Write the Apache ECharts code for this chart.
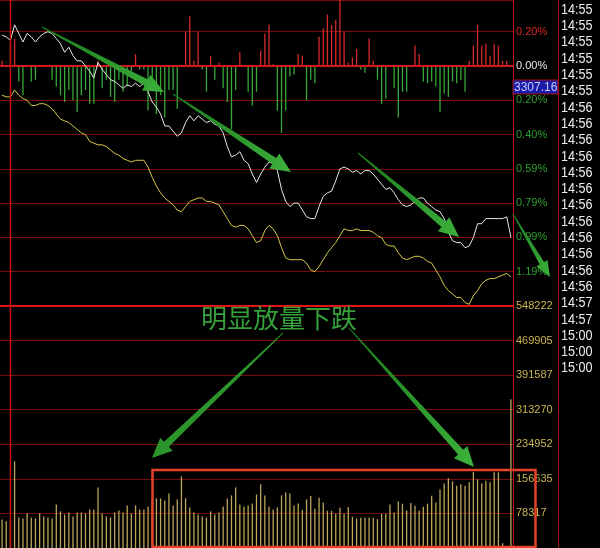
<!DOCTYPE html>
<html><head><meta charset="utf-8">
<script src="https://cdn.jsdelivr.net/npm/echarts@6/dist/echarts.min.js"></script>
<style>html,body{margin:0;padding:0;background:#000}#c{width:600px;height:548px}</style>
</head><body><div id="c"></div>
<script>
// ---- data ----
const tickNo = Array.from({length: 123}, (_, i) => i + 1); // tick sequence (categories)
// price change of last trade, percent
const priceLine = [0.18,0.17,0.15,0.24,0.19,0.14,0.19,0.17,0.14,0.17,0.19,0.20,0.19,0.16,0.13,0.08,0.11,0.06,0.03,0.03,
 0.00,-0.03,-0.07,0.02,-0.02,-0.05,-0.08,-0.09,-0.11,-0.13,-0.11,-0.12,-0.10,-0.12,-0.10,-0.15,-0.21,-0.24,-0.28,-0.35,
 -0.35,-0.38,-0.41,-0.39,-0.33,-0.29,-0.32,-0.29,-0.31,-0.33,-0.32,-0.34,-0.35,-0.39,-0.47,-0.53,-0.52,-0.50,-0.55,-0.57,
 -0.63,-0.68,-0.63,-0.59,-0.56,-0.57,-0.61,-0.72,-0.79,-0.82,-0.80,-0.80,-0.84,-0.88,-0.89,-0.89,-0.82,-0.76,-0.74,-0.73,
 -0.67,-0.60,-0.59,-0.60,-0.62,-0.61,-0.63,-0.61,-0.61,-0.63,-0.66,-0.69,-0.72,-0.71,-0.74,-0.78,-0.81,-0.82,-0.81,-0.79,
 -0.77,-0.77,-0.80,-0.82,-0.84,-0.85,-0.89,-0.97,-1.02,-1.03,-1.03,-1.06,-1.05,-1.00,-0.92,-0.92,-0.89,-0.89,-0.89,-0.89,
 -0.89,-0.88,-1.00];
// average price, percent
const avgLine = [-0.17,-0.18,-0.18,-0.14,-0.17,-0.19,-0.20,-0.23,-0.23,-0.22,-0.22,-0.23,-0.25,-0.28,-0.31,-0.32,-0.33,-0.35,-0.37,-0.39,
 -0.40,-0.44,-0.45,-0.46,-0.46,-0.47,-0.49,-0.51,-0.52,-0.54,-0.55,-0.56,-0.55,-0.55,-0.55,-0.59,-0.65,-0.70,-0.74,-0.77,
 -0.79,-0.81,-0.84,-0.85,-0.82,-0.79,-0.78,-0.77,-0.77,-0.79,-0.79,-0.80,-0.81,-0.85,-0.89,-0.93,-0.94,-0.93,-0.93,-0.95,
 -0.99,-1.03,-1.02,-0.96,-0.93,-0.95,-0.99,-1.06,-1.12,-1.13,-1.13,-1.13,-1.13,-1.15,-1.19,-1.20,-1.17,-1.13,-1.09,-1.06,
 -1.03,-0.99,-0.95,-0.96,-0.96,-0.95,-0.96,-0.96,-0.96,-0.97,-0.99,-1.00,-1.04,-1.05,-1.05,-1.09,-1.12,-1.13,-1.12,-1.11,
 -1.11,-1.12,-1.14,-1.15,-1.19,-1.23,-1.28,-1.31,-1.33,-1.35,-1.35,-1.38,-1.39,-1.34,-1.31,-1.27,-1.25,-1.24,-1.24,-1.23,
 -1.22,-1.21,-1.23];
// buy/sell pressure histogram (same scale as the percent axis)
const pressure = [0.03,0,0.13,0.16,-0.09,-0.17,0,-0.09,-0.08,0,0,0,-0.08,-0.12,-0.17,-0.21,-0.14,-0.20,-0.27,-0.17,
 -0.14,-0.22,-0.22,0.03,-0.13,-0.08,-0.18,-0.21,-0.08,-0.15,-0.12,-0.03,0.07,-0.02,-0.02,-0.26,-0.14,-0.28,-0.17,-0.30,
 -0.14,-0.14,-0.25,0,0.20,0.29,0.03,0.20,-0.02,-0.15,0.06,-0.08,0.02,-0.13,-0.21,-0.37,-0.14,0.08,0,-0.15,
 -0.23,-0.15,0.09,0.19,0.24,0.01,-0.26,-0.39,-0.26,-0.06,-0.05,0.07,0.06,-0.20,-0.08,-0.10,0.17,0.22,0.30,0.24,
 0.27,0.40,0.20,0.02,0.05,0.10,-0.02,-0.04,0.16,0.03,-0.08,-0.22,-0.19,0,-0.13,-0.30,-0.15,-0.15,0,0.12,
 0.07,-0.09,-0.10,-0.09,-0.12,-0.27,-0.16,-0.18,-0.09,-0.10,-0.08,-0.15,0.03,0.12,0.24,0.12,0.13,0.06,0.13,0.12,
 0.03,0.03,0];
const volume = [64700,60800,62400,196400,69200,67000,78300,69200,67000,78300,71500,69200,67000,98700,82900,76000,80600,71500,80600,80600,
 78300,87400,87400,137300,78300,71500,69200,80600,85100,80600,96500,78300,96500,87400,87400,94200,107800,112400,112400,107800,
 123700,96500,110100,162300,112400,91900,80600,76000,71500,69200,82900,76000,80600,94200,112400,119200,137300,98700,94200,96500,
 101000,121400,144200,119200,94200,87400,91900,119200,126000,123700,96500,101000,86700,110100,117600,89000,114000,103300,84400,84400,
 77600,91300,77600,92600,70800,67000,68600,68600,69200,68600,65400,77600,77600,98700,80600,105600,100300,85100,101700,95800,
 85100,93500,100300,118500,103300,132800,146400,158400,151000,141200,144200,141200,148700,172000,155500,146400,152500,148700,171400,171400,
 10900,0,337000];
const priceTickLabels = ['', '1.19%', '0.99%', '0.79%', '0.59%', '0.40%', '0.20%', '0.00%', '0.20%'];
const topCutLabel = '0.40%';
const volMax = 548222;
const timeLabels = ['14:55','14:55','14:55','14:55','14:55','14:55',
 '14:56','14:56','14:56','14:56','14:56','14:56','14:56','14:56','14:56','14:56','14:56','14:56',
 '14:57','14:57','15:00','15:00','15:00'];
const lastPrice = '3307.16';
const annotation = '明显放量下跌';

// ---- drawing ----
function arrow(x1, y1, x2, y2, w0, w1, hw, hl) {
  const dx = x2 - x1, dy = y2 - y1, L = Math.hypot(dx, dy);
  const ux = dx / L, uy = dy / L, nx = -uy, ny = ux;
  const bx = x2 - ux * hl, by = y2 - uy * hl;
  const pts = [
    [x1 + nx * w0 / 2, y1 + ny * w0 / 2],
    [bx + nx * w1 / 2, by + ny * w1 / 2],
    [bx + nx * hw / 2, by + ny * hw / 2],
    [x2, y2],
    [bx - nx * hw / 2, by - ny * hw / 2],
    [bx - nx * w1 / 2, by - ny * w1 / 2],
    [x1 - nx * w0 / 2, y1 - ny * w0 / 2]
  ];
  return { type: 'polygon', z: 100, shape: { points: pts },
    style: { fill: new echarts.graphic.LinearGradient(0, 0, 1, 1, [{offset: 0, color: '#1c7c1c'}, {offset: 1, color: '#3cb03c'}]) } };
}

const chart = echarts.init(document.getElementById('c'), null, { renderer: 'canvas' });
const gridRed = '#7a0c0c';
const numFont = '11px "Liberation Sans", Arial, sans-serif';
const graphics = [
  { type: 'line', z: 50, shape: { x1: 10.5, y1: 0, x2: 10.5, y2: 548 }, style: { stroke: '#c81010', lineWidth: 1.5 } },
  { type: 'line', z: 50, shape: { x1: 558.5, y1: 0, x2: 558.5, y2: 548 }, style: { stroke: '#a01010', lineWidth: 1 } },
  { type: 'text', z: 60, x: 516, y: -4, style: { text: topCutLabel, fill: '#e02828', font: numFont, verticalAlign: 'middle' } },
  { type: 'rect', z: 60, shape: { x: 513, y: 80, width: 45, height: 14 }, style: { fill: '#1a1aa8', stroke: '#a01010', lineWidth: 1 } },
  { type: 'text', z: 61, x: 514, y: 87.5, style: { text: lastPrice, fill: '#c8c8ff', font: '12px "Liberation Sans", Arial, sans-serif', verticalAlign: 'middle' } },
  { type: 'rect', z: 90, shape: { x: 152.5, y: 470, width: 383, height: 77 }, style: { fill: 'none', stroke: '#e8432a', lineWidth: 2.5 } },
  { type: 'text', z: 90, x: 201, y: 318, style: { text: annotation, fill: '#36a03a', font: '26px "Noto Sans CJK SC", sans-serif', verticalAlign: 'middle' } },
  arrow(42, 27, 164, 92, 1, 7, 18, 20),
  arrow(173, 94, 291, 172, 1, 7, 18, 20),
  arrow(358, 153, 459, 237, 1, 7, 18, 20),
  arrow(513, 214, 550, 277, 1, 5, 13, 16),
  arrow(283, 333, 152, 458, 1, 7, 18, 20),
  arrow(349, 328, 474, 467, 1, 7, 18, 20)
];
timeLabels.forEach((t, i) => {
  graphics.push({ type: 'text', z: 60, x: 561, y: 10 + 16.3 * i, scaleX: 0.9,
    style: { text: t, fill: '#eeeeee', font: '14px "Liberation Sans", Arial, sans-serif', verticalAlign: 'middle' } });
});

const option = {
  backgroundColor: '#000',
  animation: false,
  grid: [
    { left: 0, width: 513, top: 0, height: 306 },
    { left: 0, width: 513, top: 306, height: 242 }
  ],
  xAxis: [
    { type: 'category', gridIndex: 0, data: tickNo, boundaryGap: true,
      axisLine: { show: true, onZero: false, lineStyle: { color: '#e01414', width: 2 } },
      axisTick: { show: false }, axisLabel: { show: false }, splitLine: { show: false } },
    { type: 'category', gridIndex: 1, data: tickNo, boundaryGap: true,
      axisLine: { show: false }, axisTick: { show: false }, axisLabel: { show: false }, splitLine: { show: false } }
  ],
  yAxis: [
    { type: 'value', gridIndex: 0, position: 'right', min: -1.4, max: 0.385, interval: 0.2,
      axisLine: { show: true, lineStyle: { color: '#c01010', width: 1 } }, axisTick: { show: false },
      splitLine: { show: true, lineStyle: { color: gridRed, width: 1 } },
      axisLabel: { margin: 3, fontSize: 11, fontFamily: '"Liberation Sans", Arial, sans-serif', showMaxLabel: false,
        formatter: (v) => { const k = (v + 1.4) / 0.2; return Math.abs(k - Math.round(k)) < 0.01 ? (priceTickLabels[Math.round(k)] || '') : ''; },
        color: (v) => { const r = Math.round(v * 10) / 10; return r > 0 ? '#e02828' : (r === 0 ? '#e8e8e8' : '#2fa02f'); } } },
    { type: 'value', gridIndex: 1, position: 'right', min: 0, max: volMax, interval: volMax / 7,
      axisLine: { show: true, lineStyle: { color: '#c01010', width: 1 } }, axisTick: { show: false },
      splitLine: { show: true, lineStyle: { color: gridRed, width: 1 } },
      axisLabel: { margin: 3, fontSize: 11, color: '#c8b450', fontFamily: '"Liberation Sans", Arial, sans-serif',
        showMinLabel: false, formatter: (v) => String(Math.round(v)) } }
  ],
  series: [
    { type: 'bar', xAxisIndex: 0, yAxisIndex: 0, data: pressure, barWidth: 1.3,
      itemStyle: { color: (p) => p.value >= 0 ? '#d42a2a' : '#38a838' },
      markLine: { silent: true, symbol: 'none', label: { show: false },
        lineStyle: { color: '#d01818', width: 2, type: 'solid' }, data: [{ yAxis: 0 }] } },
    { type: 'line', xAxisIndex: 0, yAxisIndex: 0, data: priceLine, showSymbol: false,
      lineStyle: { color: '#e8e8e8', width: 1 }, z: 5 },
    { type: 'line', xAxisIndex: 0, yAxisIndex: 0, data: avgLine, showSymbol: false,
      lineStyle: { color: '#d8c848', width: 1 }, z: 4 },
    { type: 'bar', xAxisIndex: 1, yAxisIndex: 1, data: volume, barWidth: 1.3,
      itemStyle: { color: '#bba65a' } }
  ],
  graphic: graphics
};
chart.setOption(option);
</script></body></html>
